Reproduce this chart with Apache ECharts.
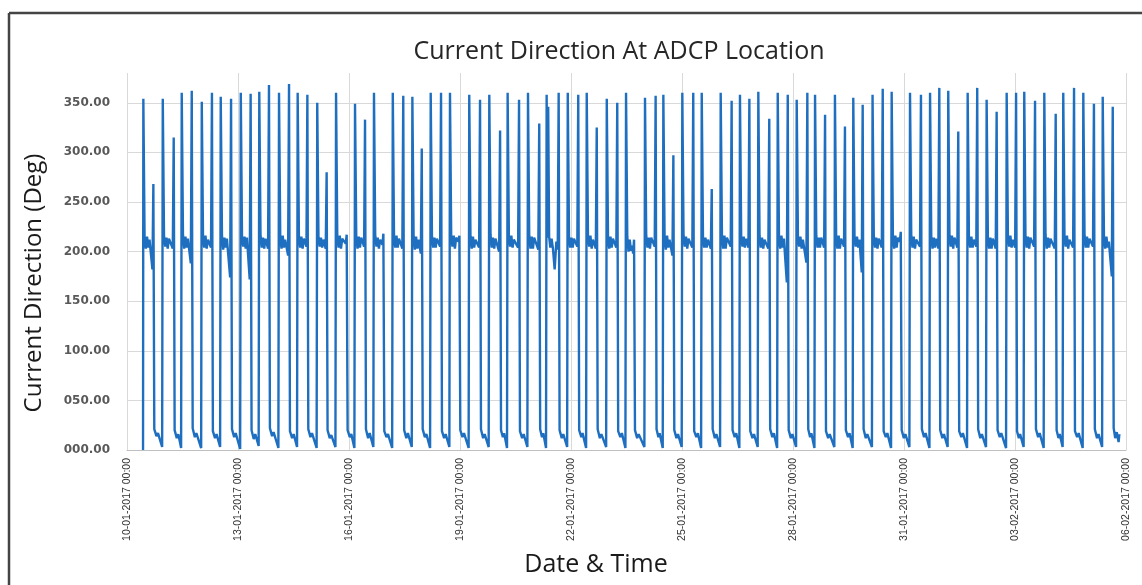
<!DOCTYPE html>
<html><head><meta charset="utf-8">
<script src="https://cdn.jsdelivr.net/npm/echarts@6/dist/echarts.min.js"></script>
<style>html,body{margin:0;padding:0;background:#fff}#c{width:1142px;height:585px}</style>
</head><body><div id="c"></div>
<script>
// x = hours since 10-01-2017 00:00
const tickLabels = ['10-01-2017 00:00','13-01-2017 00:00','16-01-2017 00:00','19-01-2017 00:00','22-01-2017 00:00','25-01-2017 00:00','28-01-2017 00:00','31-01-2017 00:00','03-02-2017 00:00','06-02-2017 00:00'];
const yTicks = [0,50,100,150,200,250,300,350];

const hours = [
10.4,
10.6,11.4,12.2,13.0,13.8,14.6,16.5,17.1,17.7,19.1,20.1,22.8,
23.2,24.0,24.8,25.6,26.4,27.2,29.7,30.3,30.9,32.3,33.3,35.1,
35.5,36.3,37.1,37.9,38.7,39.5,41.4,42.0,42.6,44.0,45.0,48.1,
48.5,49.3,50.1,50.9,51.7,52.5,54.5,55.1,55.7,57.1,58.1,60.4,
60.8,61.6,62.4,63.2,64.0,64.8,66.9,67.5,68.1,69.5,70.5,73.4,
73.8,74.6,75.4,76.2,77.0,77.8,79.6,80.2,80.8,82.2,83.2,85.4,
85.8,86.6,87.4,88.2,89.0,89.8,91.5,92.1,92.7,94.1,95.1,98.2,
98.6,99.4,100.2,101.0,101.8,102.6,104.5,105.1,105.7,107.1,108.1,110.3,
110.7,111.5,112.3,113.1,113.9,114.7,116.4,117.0,117.6,119.0,120.0,123.0,
123.4,124.2,125.0,125.8,126.6,127.4,128.9,129.5,130.1,131.5,132.5,135.2,
135.6,136.4,137.2,138.0,138.8,139.6,141.9,142.5,143.1,144.5,145.5,147.5,
147.9,148.7,149.5,150.3,151.1,151.9,153.8,154.4,155.0,156.4,157.4,159.8,
160.2,161.0,161.8,162.6,163.4,164.2,165.7,166.3,166.9,168.3,169.3,172.0,
172.4,173.2,174.0,174.8,175.6,176.4,178.6,179.2,179.8,181.2,182.2,184.7,
185.1,185.9,186.7,187.5,188.3,189.1,190.6,191.2,191.8,193.2,194.2,196.6,
197.0,197.8,198.6,199.4,200.2,201.0,203.1,203.7,204.3,205.7,206.7,209.1,
209.5,210.3,211.1,211.9,212.7,213.5,215.0,215.6,216.2,217.6,218.6,221.6,
222.0,222.8,223.6,224.4,225.2,226.0,228.4,229.0,229.6,231.0,232.0,234.6,
235.0,235.8,236.6,237.4,238.2,239.0,241.4,242.0,242.6,243.8,244.6,246.5,
246.9,247.7,248.5,249.3,250.1,250.9,253.7,254.3,254.9,256.3,257.3,259.7,
260.1,260.9,261.7,262.5,263.3,264.1,266.8,267.4,268.0,269.2,270.0,271.8,
272.2,272.7,273.2,273.8,274.6,275.4,276.3,277.4,278.5,279.4,280.0,280.6,282.0,283.0,285.5,
285.9,286.7,287.5,288.3,289.1,289.9,292.1,292.7,293.3,294.7,295.5,297.8,
298.2,299.0,299.8,300.6,301.4,302.2,304.1,304.7,305.3,306.7,307.7,310.8,
311.2,312.0,312.8,313.6,314.4,315.2,317.4,318.0,318.6,320.0,321.0,323.3,
323.7,324.5,325.3,326.1,326.9,327.7,328.3,328.9,329.5,330.9,331.9,335.6,
336.0,336.8,337.6,338.4,339.2,340.0,342.3,342.9,343.5,344.7,345.5,347.5,
347.9,348.7,349.5,350.3,351.1,351.9,353.8,354.4,355.0,356.4,357.4,359.8,
360.2,361.0,361.8,362.6,363.4,364.2,366.7,367.3,367.9,369.3,370.3,372.4,
372.8,373.6,374.4,375.2,376.0,376.8,378.7,379.3,379.9,381.3,382.3,384.7,
385.1,385.9,386.7,387.5,388.3,389.1,391.6,392.2,392.8,394.2,395.2,397.2,
397.6,398.4,399.2,400.0,400.8,401.6,403.1,403.7,404.3,405.7,406.7,409.1,
409.5,410.3,411.1,411.9,412.7,413.5,416.0,416.6,417.2,418.6,419.6,421.7,
422.1,422.9,423.7,424.5,425.3,426.1,428.0,428.6,429.2,430.6,431.6,434.0,
434.4,435.2,436.0,436.8,437.6,438.4,440.7,441.3,441.9,443.1,443.9,445.9,
446.3,447.1,447.9,448.7,449.5,450.3,452.2,452.8,453.4,454.8,455.8,458.8,
459.2,460.0,460.8,461.6,462.4,463.2,465.1,465.7,466.3,467.7,468.7,470.7,
471.1,471.9,472.7,473.5,474.3,475.1,476.6,477.2,477.8,479.2,480.2,483.2,
483.6,484.4,485.2,486.0,486.8,487.6,489.6,490.2,490.8,492.2,493.2,495.6,
496.0,496.8,497.6,498.4,499.2,500.0,501.3,501.9,502.5,503.9,504.9,507.5,
507.9,508.7,509.5,510.3,511.1,511.9,514.4,515.0,515.6,517.0,518.0,520.5,
520.9,521.7,522.5,523.3,524.1,524.9,526.3,526.9,527.5,528.9,529.9,532.3,
532.7,533.5,534.3,535.1,535.9,536.7,538.6,539.2,539.8,541.2,542.2,544.9,
545.3,546.1,546.9,547.7,548.5,549.3,550.9,551.5,552.1,553.5,554.5,557.2,
557.6,558.4,559.2,560.0,560.8,561.6,563.5,564.1,564.7,566.1,567.1,570.2,
570.6,571.4,572.2,573.0,573.8,574.6,576.1,576.7,577.3,578.5,579.3,581.6,
582.0,582.8,583.6,584.4,585.2,586.0,588.4,589.0,589.6,591.0,592.0,594.6,
595.0,595.8,596.6,597.4,598.2,599.0,601.8,602.4,603.0,604.2,605.0,606.9,
607.3,608.1,608.9,609.7,610.5,611.3,613.7,614.3,614.9,616.3,617.3,619.9,
620.3,621.1,621.9,622.7,623.5,624.3,626.6,627.2,627.8,629.2,630.2,632.5,
632.9,633.7,634.5,635.3,636.1,636.9,638.8,639.4,640.0,641.0,642.0,643.2,643.7
];

const direction = [
0,
354,214,203,215,204,212,182,268,21,14,17,3,
354,216,205,214,203,213,203,315,20,12,16,2,
360,217,203,215,204,213,188,362,22,13,17,2,
351,215,204,216,203,212,204,360,19,12,16,3,
356,216,202,214,204,213,174,354,21,13,17,1,
360,214,205,215,203,214,172,359,20,11,16,4,
361,217,204,214,203,213,203,368,22,14,18,2,
360,215,203,216,204,212,196,369,19,12,16,3,
360,216,204,215,203,213,205,358,21,13,17,2,
350,214,205,214,204,212,203,280,20,12,15,3,
360,215,204,216,203,213,208,217,20,13,16,2,
349,216,203,215,204,214,205,333,21,12,17,3,
360,217,205,214,203,212,207,218,19,13,16,2,
360,214,204,216,204,213,203,357,20,12,17,3,
356,215,202,215,203,212,198,304,21,13,16,2,
360,216,204,214,204,213,205,360,19,12,16,3,
360,214,205,216,203,214,210,216,20,13,17,2,
358,215,203,215,204,212,204,353,21,12,16,3,
358,217,204,214,203,213,200,322,20,13,17,2,
360,215,205,216,204,212,204,353,19,12,16,3,
360,216,203,215,203,214,202,329,21,13,17,2,
358,214,346,215,204,213,203,182,210,202,360,20,12,16,3,
360,215,204,214,204,213,205,358,20,13,17,2,
360,216,205,216,203,212,203,325,21,12,16,3,
354,214,203,215,204,213,204,350,19,13,17,2,
360,215,200,212,201,206,198,212,20,12,16,3,
355,216,204,214,203,214,205,357,21,13,17,2,
358,214,202,216,204,212,196,297,20,12,16,3,
360,216,205,215,203,213,204,360,19,13,17,2,
360,215,204,214,204,212,203,263,21,12,16,3,
360,217,203,216,203,214,205,352,20,13,17,2,
358,214,205,215,204,213,204,354,19,12,16,3,
361,216,204,214,203,212,203,334,21,13,17,2,
360,215,203,216,204,213,169,358,20,12,16,3,
353,214,205,215,203,212,189,360,21,13,17,2,
358,216,204,214,204,214,204,338,19,12,16,3,
358,215,203,216,203,213,205,326,20,13,17,2,
355,214,205,215,204,212,179,348,21,12,16,3,
358,216,204,214,203,213,204,364,19,13,17,2,
361,215,203,216,204,214,210,220,20,12,16,3,
360,217,204,215,203,212,205,358,21,13,17,2,
360,214,203,214,204,213,203,365,20,12,16,3,
362,216,205,216,203,214,204,321,19,13,17,2,
360,215,204,215,204,212,205,365,21,12,16,3,
353,214,203,214,203,213,203,341,20,13,17,2,
360,216,205,216,204,212,204,360,19,12,16,3,
361,215,204,215,203,214,205,352,21,13,17,2,
360,217,203,214,204,213,203,339,20,12,16,3,
360,214,205,216,203,212,204,365,19,13,17,2,
360,216,204,215,204,213,205,349,21,12,16,3,
356,214,203,215,204,210,175,346,22,12,18,8,16
];

const seriesData = hours.map((h, i) => [h, direction[i]]);

const chart = echarts.init(document.getElementById('c'), null, {renderer: 'canvas'});
const pad3 = v => { const s = String(Math.round(v)); return ('000' + s).slice(-3) + '.00'; };

chart.setOption({
  animation: false,
  backgroundColor: '#ffffff',
  grid: {left: 127, right: 16, top: 73, bottom: 135, containLabel: false},
  xAxis: {
    type: 'value', min: 0, max: 648, interval: 72,
    axisLine: {show: true, lineStyle: {color: '#bfbfbf', width: 1}},
    axisTick: {show: false},
    splitLine: {show: true, lineStyle: {color: '#d9d9d9', width: 1}},
    axisLabel: {
      rotate: 90, margin: 8, color: '#333333',
      fontFamily: '"Liberation Sans", Arial, sans-serif', fontSize: 10.5,
      formatter: v => tickLabels[Math.round(v / 72)] || ''
    }
  },
  yAxis: {
    type: 'value', min: 0, max: 380, interval: 50,
    axisLine: {show: false}, axisTick: {show: false},
    splitLine: {show: true, showMaxLine: false, lineStyle: {color: '#d9d9d9', width: 1}},
    axisLabel: {
      margin: 17, color: '#595959', fontWeight: 'bold',
      fontFamily: '"DejaVu Sans", sans-serif', fontSize: 12,
      formatter: v => (yTicks.indexOf(v) >= 0 ? pad3(v) : '')
    }
  },
  series: [{
    type: 'line', data: seriesData, showSymbol: false, symbol: 'none',
    sampling: null, smooth: false,
    lineStyle: {color: '#1f6fc0', width: 2.4},
    emphasis: {disabled: true}
  }],
  graphic: [
    {type: 'line', shape: {x1: 9, y1: 13, x2: 1142, y2: 13}, style: {stroke: '#444', lineWidth: 2.5}},
    {type: 'line', shape: {x1: 9, y1: 13, x2: 9, y2: 585}, style: {stroke: '#444', lineWidth: 2.5}},
    {type: 'text', x: 619, y: 52, style: {text: 'Current Direction At ADCP Location', align: 'center', verticalAlign: 'middle', fontFamily: '"Open Sans", sans-serif', fontSize: 25, fill: '#262626'}},
    {type: 'text', x: 34, y: 283, rotation: Math.PI / 2, style: {text: 'Current Direction (Deg)', align: 'center', verticalAlign: 'middle', fontFamily: '"Open Sans", sans-serif', fontSize: 24, fill: '#1a1a1a'}},
    {type: 'text', x: 596, y: 565, style: {text: 'Date & Time', align: 'center', verticalAlign: 'middle', fontFamily: '"Open Sans", sans-serif', fontSize: 25, fill: '#1a1a1a'}}
  ]
});
</script></body></html>
